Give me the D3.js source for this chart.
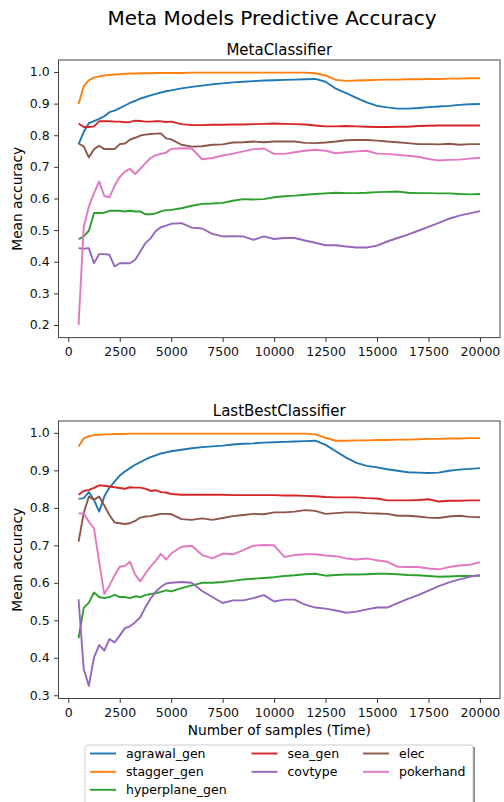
<!DOCTYPE html>
<html>
<head>
<meta charset="utf-8">
<script src="https://cdn.jsdelivr.net/npm/d3@7"></script>
<style>
    body { margin: 0; background: #fff; }
    svg { display: block; font-family: "DejaVu Sans", sans-serif; }
</style>
</head>
<body>
<div id="chart"></div>
<script>
// sample counts on the x axis (finer steps at the start)
const samples = [
    500, 750, 1000, 1250, 1500, 1750, 2000, 2250, 2500, 2750, 3000, 3250, 3500, 3750, 4000, 4250, 4500, 4750, 5000,
    5500, 6000, 6500, 7000, 7500, 8000, 8500, 9000, 9500, 10000,
    10500, 11000, 11500, 12000, 12500, 13000, 13500, 14000, 14500, 15000,
    15500, 16000, 16500, 17000, 17500, 18000, 18500, 19000, 19500, 20000
];

const seriesNames = ['agrawal_gen', 'stagger_gen', 'hyperplane_gen', 'sea_gen', 'covtype', 'elec', 'pokerhand'];
const seriesColors = ['#1f77b4', '#ff7f0e', '#2ca02c', '#d62728', '#9467bd', '#8c564b', '#e377c2'];

const xTicks = [0, 2500, 5000, 7500, 10000, 12500, 15000, 17500, 20000];
const metaYTicks = [0.2, 0.3, 0.4, 0.5, 0.6, 0.7, 0.8, 0.9, 1.0];
const lastYTicks = [0.3, 0.4, 0.5, 0.6, 0.7, 0.8, 0.9, 1.0];

// MetaClassifier
const metaAgrawal = [
    0.772, 0.810, 0.838, 0.845, 0.852, 0.860, 0.873, 0.878, 0.886, 0.894, 0.902, 0.909, 0.916, 0.921, 0.926, 0.931, 0.935, 0.939, 0.942,
    0.948, 0.953, 0.957, 0.961, 0.964, 0.967, 0.969, 0.971, 0.973, 0.974,
    0.975, 0.976, 0.977, 0.978, 0.969, 0.947, 0.933, 0.918, 0.904, 0.893,
    0.888, 0.884, 0.884, 0.886, 0.889, 0.891, 0.893, 0.896, 0.898, 0.899
];
const metaStagger = [
    0.899, 0.955, 0.974, 0.982, 0.986, 0.989, 0.991, 0.992, 0.993, 0.994, 0.995, 0.995, 0.996, 0.996, 0.996, 0.997, 0.997, 0.997, 0.997,
    0.997, 0.998, 0.998, 0.998, 0.998, 0.998, 0.998, 0.998, 0.998, 0.998,
    0.998, 0.998, 0.998, 0.996, 0.989, 0.975, 0.972, 0.973, 0.974, 0.975,
    0.976, 0.976, 0.977, 0.977, 0.978, 0.978, 0.979, 0.979, 0.980, 0.980
];
const metaHyperplane = [
    0.471, 0.480, 0.498, 0.554, 0.554, 0.555, 0.561, 0.561, 0.561, 0.559, 0.561, 0.559, 0.559, 0.550, 0.550, 0.553, 0.559, 0.563, 0.564,
    0.569, 0.577, 0.583, 0.584, 0.586, 0.593, 0.598, 0.597, 0.598, 0.604,
    0.607, 0.609, 0.612, 0.614, 0.616, 0.618, 0.617, 0.617, 0.618, 0.620,
    0.621, 0.622, 0.618, 0.617, 0.617, 0.616, 0.616, 0.614, 0.613, 0.614
];
const metaSea = [
    0.837, 0.826, 0.826, 0.828, 0.844, 0.844, 0.844, 0.843, 0.843, 0.841, 0.842, 0.846, 0.845, 0.843, 0.843, 0.844, 0.844, 0.842, 0.843,
    0.835, 0.832, 0.832, 0.833, 0.833, 0.834, 0.834, 0.835, 0.836, 0.837,
    0.836, 0.835, 0.834, 0.831, 0.828, 0.828, 0.829, 0.828, 0.827, 0.826,
    0.826, 0.827, 0.827, 0.829, 0.830, 0.831, 0.831, 0.831, 0.831, 0.831
];
const metaCovtype = [
    0.443, 0.441, 0.443, 0.395, 0.424, 0.424, 0.422, 0.385, 0.395, 0.395, 0.395, 0.406, 0.432, 0.459, 0.474, 0.497, 0.509, 0.514, 0.520,
    0.522, 0.508, 0.505, 0.488, 0.480, 0.481, 0.480, 0.469, 0.480, 0.472,
    0.475, 0.475, 0.467, 0.460, 0.452, 0.452, 0.448, 0.445, 0.445, 0.451,
    0.464, 0.475, 0.486, 0.498, 0.510, 0.523, 0.536, 0.546, 0.553, 0.560
];
const metaElec = [
    0.774, 0.765, 0.730, 0.756, 0.767, 0.756, 0.757, 0.756, 0.772, 0.774, 0.786, 0.792, 0.799, 0.802, 0.804, 0.805, 0.806, 0.790, 0.787,
    0.770, 0.764, 0.765, 0.770, 0.771, 0.777, 0.778, 0.780, 0.778, 0.780,
    0.780, 0.780, 0.776, 0.775, 0.777, 0.780, 0.784, 0.785, 0.785, 0.783,
    0.780, 0.778, 0.775, 0.772, 0.772, 0.771, 0.773, 0.770, 0.772, 0.772
];
const metaPoker = [
    0.200, 0.510, 0.575, 0.617, 0.654, 0.608, 0.604, 0.640, 0.668, 0.685, 0.694, 0.677, 0.694, 0.712, 0.728, 0.737, 0.741, 0.745, 0.757,
    0.759, 0.758, 0.724, 0.728, 0.736, 0.742, 0.749, 0.756, 0.758, 0.741,
    0.741, 0.746, 0.751, 0.754, 0.751, 0.743, 0.746, 0.749, 0.751, 0.742,
    0.741, 0.738, 0.735, 0.732, 0.725, 0.720, 0.722, 0.723, 0.726, 0.729
];

// LastBestClassifier
const lastAgrawal = [
    0.824, 0.826, 0.842, 0.821, 0.790, 0.830, 0.854, 0.870, 0.886, 0.897, 0.906, 0.915, 0.922, 0.929, 0.935, 0.940, 0.945, 0.948, 0.951,
    0.955, 0.959, 0.962, 0.964, 0.966, 0.969, 0.971, 0.972, 0.974, 0.975,
    0.976, 0.977, 0.978, 0.979, 0.968, 0.951, 0.934, 0.920, 0.912, 0.908,
    0.903, 0.899, 0.895, 0.894, 0.893, 0.894, 0.899, 0.902, 0.904, 0.906
];
const lastStagger = [
    0.964, 0.985, 0.991, 0.994, 0.995, 0.996, 0.996, 0.997, 0.997, 0.997, 0.998, 0.998, 0.998, 0.998, 0.998, 0.998, 0.998, 0.998, 0.998,
    0.998, 0.998, 0.998, 0.998, 0.998, 0.998, 0.998, 0.998, 0.998, 0.998,
    0.998, 0.998, 0.998, 0.996, 0.987, 0.979, 0.979, 0.980, 0.980, 0.981,
    0.981, 0.982, 0.982, 0.983, 0.984, 0.984, 0.985, 0.985, 0.986, 0.986
];
const lastHyperplane = [
    0.452, 0.533, 0.547, 0.574, 0.562, 0.559, 0.562, 0.568, 0.562, 0.562, 0.559, 0.564, 0.562, 0.567, 0.570, 0.572, 0.576, 0.580, 0.577,
    0.586, 0.593, 0.600, 0.600, 0.602, 0.605, 0.609, 0.611, 0.613, 0.615,
    0.618, 0.620, 0.623, 0.624, 0.619, 0.621, 0.622, 0.622, 0.623, 0.624,
    0.624, 0.623, 0.621, 0.620, 0.618, 0.616, 0.617, 0.618, 0.618, 0.619
];
const lastSea = [
    0.835, 0.845, 0.848, 0.853, 0.860, 0.859, 0.857, 0.855, 0.853, 0.851, 0.855, 0.854, 0.854, 0.851, 0.845, 0.847, 0.842, 0.841, 0.837,
    0.835, 0.835, 0.835, 0.835, 0.835, 0.834, 0.834, 0.834, 0.834, 0.834,
    0.833, 0.833, 0.832, 0.831, 0.829, 0.828, 0.828, 0.828, 0.826, 0.825,
    0.820, 0.820, 0.820, 0.821, 0.823, 0.817, 0.819, 0.819, 0.820, 0.820
];
const lastCovtype = [
    0.556, 0.370, 0.325, 0.401, 0.434, 0.419, 0.450, 0.441, 0.459, 0.479, 0.484, 0.495, 0.508, 0.535, 0.558, 0.576, 0.589, 0.598, 0.600,
    0.602, 0.600, 0.578, 0.562, 0.546, 0.553, 0.553, 0.559, 0.567, 0.550,
    0.555, 0.555, 0.542, 0.534, 0.531, 0.526, 0.520, 0.523, 0.529, 0.534,
    0.534, 0.546, 0.557, 0.567, 0.579, 0.591, 0.601, 0.609, 0.616, 0.621
];
const lastElec = [
    0.710, 0.786, 0.830, 0.822, 0.830, 0.806, 0.781, 0.761, 0.759, 0.757, 0.759, 0.765, 0.774, 0.777, 0.778, 0.781, 0.784, 0.784, 0.783,
    0.770, 0.768, 0.772, 0.768, 0.773, 0.778, 0.781, 0.784, 0.783, 0.788,
    0.788, 0.790, 0.794, 0.792, 0.784, 0.786, 0.788, 0.788, 0.786, 0.785,
    0.784, 0.779, 0.779, 0.777, 0.774, 0.773, 0.777, 0.779, 0.776, 0.775
];
const lastPoker = [
    0.785, 0.785, 0.763, 0.745, 0.656, 0.570, 0.593, 0.620, 0.643, 0.645, 0.656, 0.622, 0.604, 0.625, 0.643, 0.659, 0.677, 0.662, 0.678,
    0.696, 0.699, 0.674, 0.665, 0.678, 0.676, 0.687, 0.699, 0.701, 0.700,
    0.669, 0.674, 0.676, 0.676, 0.673, 0.671, 0.665, 0.662, 0.665, 0.660,
    0.656, 0.643, 0.642, 0.642, 0.638, 0.636, 0.642, 0.646, 0.648, 0.655
];

const metaSeries = [metaAgrawal, metaStagger, metaHyperplane, metaSea, metaCovtype, metaElec, metaPoker];
const lastSeries = [lastAgrawal, lastStagger, lastHyperplane, lastSea, lastCovtype, lastElec, lastPoker];

document.addEventListener('DOMContentLoaded', function() {
    const width = 504;
    const height = 802;
    const left = 58.5;
    const right = 500;

    const svg = d3.select('#chart')
        .append('svg')
        .attr('width', width)
        .attr('height', height);

    svg.append('rect')
        .attr('width', width)
        .attr('height', height)
        .attr('fill', '#fff');

    svg.append('text')
        .attr('x', 272)
        .attr('y', 25)
        .attr('text-anchor', 'middle')
        .style('font-size', '20px')
        .text('Meta Models Predictive Accuracy');

    // matplotlib-like autoscale: 5% margin on each side
    function padded(ext) {
        const m = (ext[1] - ext[0]) * 0.05;
        return [ext[0] - m, ext[1] + m];
    }

    const panels = [
        { title: 'MetaClassifier', top: 60, bottom: 337.6, yTicks: metaYTicks, series: metaSeries, xlabel: false },
        { title: 'LastBestClassifier', top: 421, bottom: 698.5, yTicks: lastYTicks, series: lastSeries, xlabel: true }
    ];

    const x = d3.scaleLinear()
        .domain(padded(d3.extent(samples)))
        .range([left, right]);

    panels.forEach(p => {
        const allVals = p.series.flat();
        const y = d3.scaleLinear()
            .domain(padded(d3.extent(allVals)))
            .range([p.bottom, p.top]);

        const g = svg.append('g');

        // lines
        const line = d3.line()
            .x((d, i) => x(samples[i]))
            .y(d => y(d));

        p.series.forEach((vals, k) => {
            g.append('path')
                .datum(vals)
                .attr('d', line)
                .attr('fill', 'none')
                .attr('stroke', seriesColors[k])
                .attr('stroke-width', 1.9)
                .attr('stroke-linejoin', 'round');
        });

        // axes
        const xAxis = g.append('g')
            .attr('transform', `translate(0,${p.bottom})`)
            .call(d3.axisBottom(x).tickValues(xTicks).tickSize(4.4).tickPadding(5).tickFormat(d3.format('d')));
        const yAxis = g.append('g')
            .attr('transform', `translate(${left},0)`)
            .call(d3.axisLeft(y).tickValues(p.yTicks).tickSize(4.4).tickPadding(4.4).tickFormat(d3.format('.1f')));

        [xAxis, yAxis].forEach(a => {
            a.select('.domain').remove();
            a.attr('font-family', '"DejaVu Sans", sans-serif')
                .attr('font-size', 12.5);
            a.selectAll('line').attr('stroke', '#333').attr('stroke-width', 1);
            a.selectAll('text').attr('fill', '#111');
        });

        // frame
        g.append('rect')
            .attr('x', left)
            .attr('y', p.top)
            .attr('width', right - left)
            .attr('height', p.bottom - p.top)
            .attr('fill', 'none')
            .attr('stroke', '#444')
            .attr('stroke-width', 1);

        g.append('text')
            .attr('x', (left + right) / 2)
            .attr('y', p.top - 5.5)
            .attr('text-anchor', 'middle')
            .style('font-size', '15px')
            .text(p.title);

        g.append('text')
            .attr('transform', `translate(21.5,${(p.top + p.bottom) / 2}) rotate(-90)`)
            .attr('text-anchor', 'middle')
            .style('font-size', '13.75px')
            .text('Mean accuracy');

        if (p.xlabel) {
            g.append('text')
                .attr('x', (left + right) / 2)
                .attr('y', 735)
                .attr('text-anchor', 'middle')
                .style('font-size', '13.75px')
                .text('Number of samples (Time)');
        }
    });

    // legend: 3 columns filled column by column, first columns take the extra entries (3, 2, 2)
    const legend = svg.append('g');
    legend.append('rect')
        .attr('x', 87).attr('y', 747)
        .attr('width', 388).attr('height', 70)
        .attr('fill', '#888');
    legend.append('rect')
        .attr('x', 85).attr('y', 745)
        .attr('width', 388).attr('height', 70)
        .attr('rx', 3)
        .attr('fill', '#fff')
        .attr('stroke', '#ccc');

    const ncol = 3;
    const base = Math.floor(seriesNames.length / ncol);
    const extra = seriesNames.length % ncol;
    const colSizes = d3.range(ncol).map(c => base + (c < extra ? 1 : 0));
    const colX = [90, 251.5, 363];
    const rowY = [753.5, 771.8, 789.8];

    let idx = 0;
    colSizes.forEach((size, c) => {
        for (let r = 0; r < size; r++, idx++) {
            const cx = colX[c];
            const cy = rowY[r];
            legend.append('line')
                .attr('x1', cx).attr('x2', cx + 26)
                .attr('y1', cy).attr('y2', cy)
                .attr('stroke', seriesColors[idx])
                .attr('stroke-width', 1.9);
            legend.append('text')
                .attr('x', cx + 36)
                .attr('y', cy)
                .attr('dy', '0.35em')
                .style('font-size', '12.5px')
                .text(seriesNames[idx]);
        }
    });
});
</script>
</body>
</html>
